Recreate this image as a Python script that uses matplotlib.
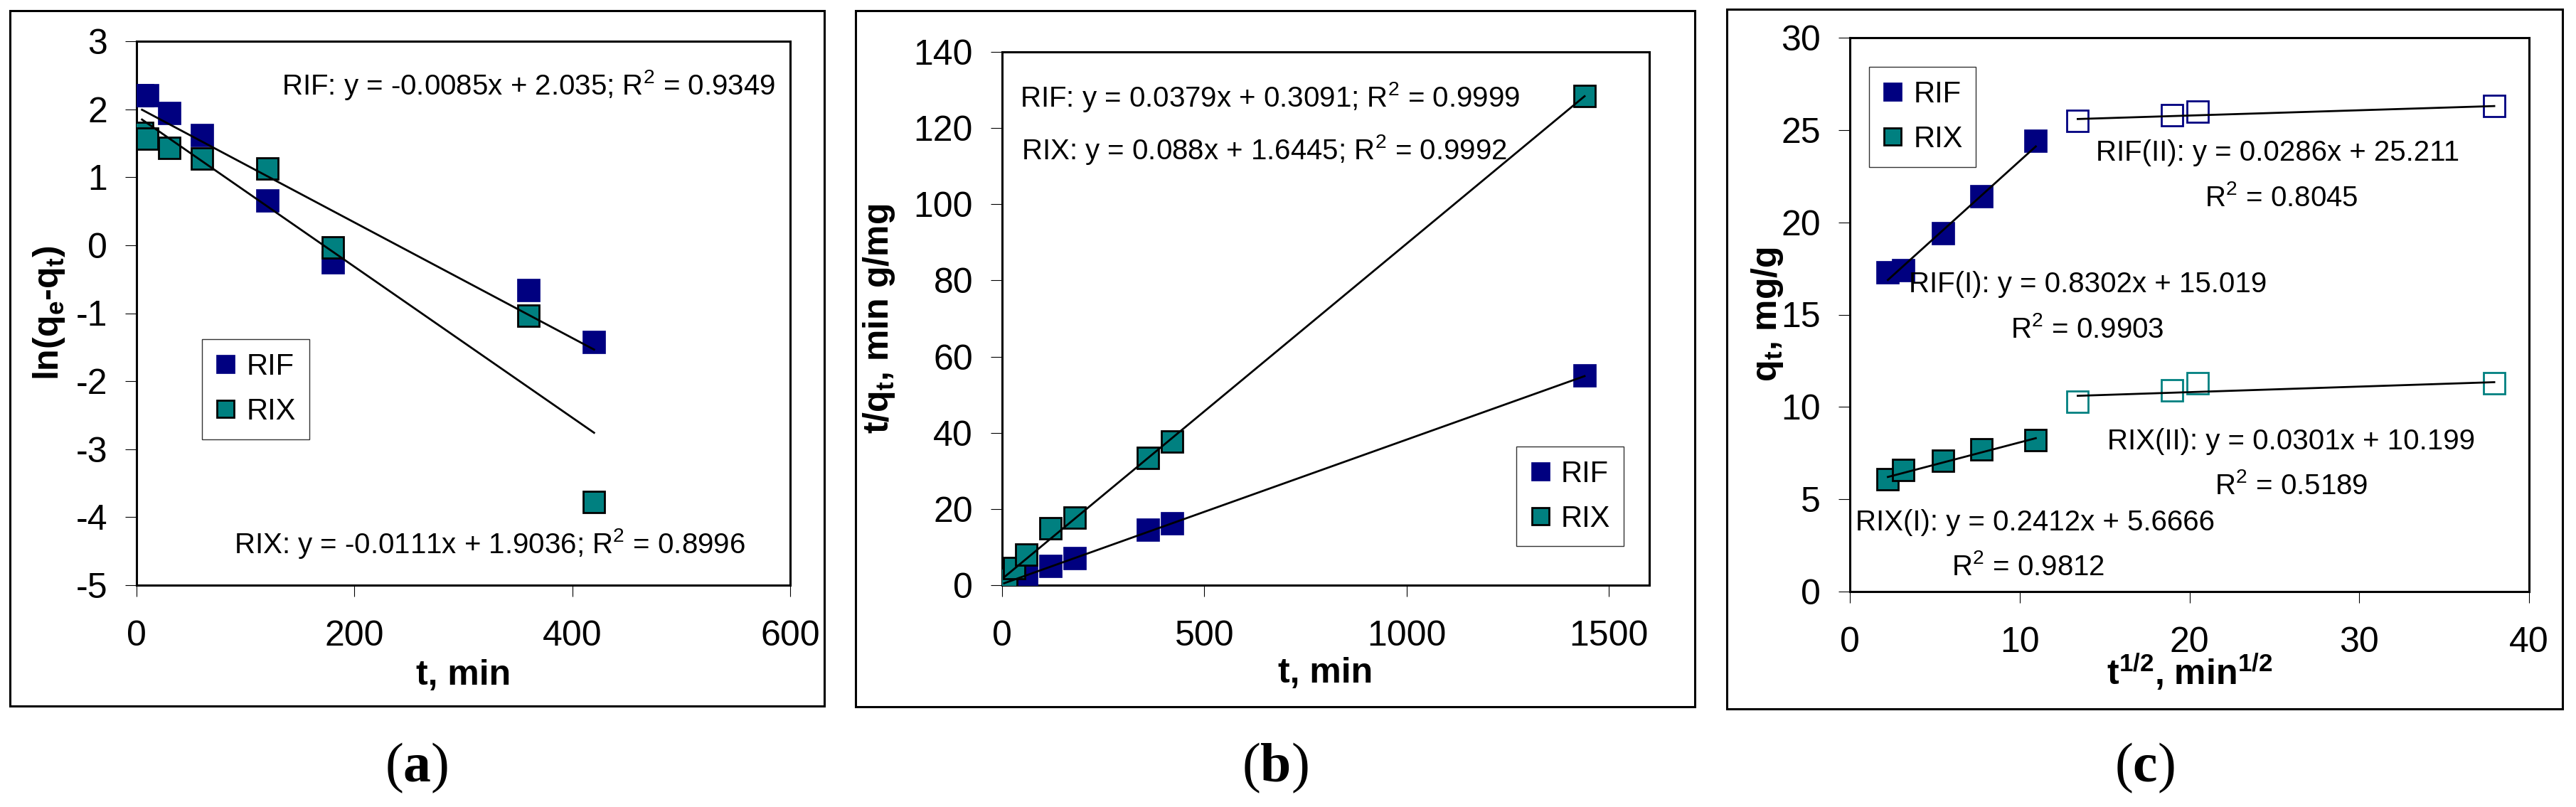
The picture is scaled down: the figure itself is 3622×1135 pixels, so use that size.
import matplotlib
matplotlib.use('Agg')
import matplotlib.pyplot as plt
from matplotlib.patches import Rectangle

plt.rcParams['font.family'] = 'Liberation Sans'
plt.rcParams['mathtext.fontset'] = 'custom'
plt.rcParams['mathtext.bf'] = 'Liberation Serif:bold'
plt.rcParams['mathtext.default'] = 'regular'
plt.rcParams['axes.unicode_minus'] = False

NAVY = '#000080'
TEAL = '#008080'

# contact time, min
t_a = [5, 10, 30, 60, 120, 180, 360, 420]
t_b = [5, 10, 30, 60, 120, 180, 360, 420, 1440]
# square root of time, min^1/2
sqrt_t = [2.24, 3.16, 5.48, 7.75, 10.95, 13.42, 18.97, 20.49, 37.95]

# (a) ln(qe - qt)
rif_a = [2.20, 2.20, 1.94, 1.62, 0.66, -0.25, -0.66, -1.42]
rix_a = [1.65, 1.57, 1.43, 1.27, 1.13, -0.03, -1.04, -3.78]
# (b) t/qt
rif_b = [0.3, 0.6, 1.6, 2.8, 5.0, 7.1, 14.5, 16.2, 55.0]
rix_b = [0.8, 1.6, 4.5, 8.0, 15.0, 17.7, 33.4, 37.8, 128.4]
# (c) qt, mg/g  (first 5 = stage I, last 4 = stage II)
rif_c = [17.3, 17.4, 19.4, 21.4, 24.4, 25.5, 25.8, 26.0, 26.3]
rix_c = [6.1, 6.6, 7.1, 7.7, 8.2, 10.3, 10.9, 11.3, 11.3]

# trendlines (slope, intercept) as printed on the chart
fit_a_rif = (-0.0085, 2.035)
fit_a_rix = (-0.0111, 1.9036)
fit_b_rif = (0.0379, 0.3091)
fit_b_rix = (0.088, 1.6445)
fit_c_rif1 = (0.8302, 15.019)
fit_c_rif2 = (0.0286, 25.211)
fit_c_rix1 = (0.2412, 5.6666)
fit_c_rix2 = (0.0301, 10.199)

W, H = 3622, 1135
fig = plt.figure(figsize=(W / 100, H / 100), dpi=100)

TICK = 36
ANN = 29


def px_axes(x0, y0, x1, y1):
    return fig.add_axes([x0 / W, 1 - y1 / H, (x1 - x0) / W, (y1 - y0) / H])


def frame(x0, y0, x1, y1):
    fig.add_artist(Rectangle((x0 / W, 1 - y1 / H), (x1 - x0) / W, (y1 - y0) / H,
                             transform=fig.transFigure, fill=False, ec='black', lw=2.2))


def style(ax):
    for s in ax.spines.values():
        s.set_linewidth(2.2)
    ax.tick_params(direction='out', length=11.5, width=0.8, labelsize=TICK)
    ax.tick_params(axis='x', pad=24)
    ax.tick_params(axis='y', pad=18)


def trend(ax, x, fit):
    xs = [min(x), max(x)]
    ax.plot(xs, [fit[0] * v + fit[1] for v in xs], color='black', lw=2, zorder=5)


def points(ax, x, y, label=None, hollow=False, color=NAVY):
    if hollow:
        ax.plot(x, y, 's', ms=21, mfc='white', mec=color, mew=2, zorder=3)
    elif color == NAVY:
        ax.plot(x, y, 's', ms=23, mfc=NAVY, mec=NAVY, mew=0.5, label=label, zorder=3)
    else:
        ax.plot(x, y, 's', ms=21, mfc=TEAL, mec='black', mew=2, label=label, zorder=3)


def legend(ax, x, y):
    lg = ax.legend(loc='upper left', bbox_to_anchor=(x, y), borderaxespad=0,
                   fontsize=30, frameon=True, fancybox=False, markerscale=0.82,
                   handlelength=0.7, handletextpad=0.35, labelspacing=0.55,
                   borderpad=0.45)
    lg.get_frame().set_edgecolor('black')
    lg.get_frame().set_linewidth(1.0)


# ---------- (a) ----------
frame(14, 15, 1159, 993)
ax = px_axes(192, 58, 1111, 823)
points(ax, t_a, rif_a, 'RIF')
points(ax, t_a, rix_a, 'RIX', color=TEAL)
trend(ax, t_a, fit_a_rif)
trend(ax, t_a, fit_a_rix)
ax.set_xlim(0, 600)
ax.set_ylim(-5, 3)
ax.set_xticks([0, 200, 400, 600])
ax.set_yticks(range(-5, 4))
style(ax)
ax.set_xlabel('t, min', fontsize=36, fontweight='bold', va='center')
ax.xaxis.set_label_coords(0.5, -0.166)
ax.set_ylabel('ln(q$_e$-q$_t$)', fontsize=36, fontweight='bold', va='center')
ax.yaxis.set_label_coords(-0.134, 0.5)
legend(ax, 0.100, 0.452)
ax.text(0.977, 0.919, 'RIF: y = -0.0085x + 2.035; R$^2$ = 0.9349', transform=ax.transAxes,
        ha='right', va='center', fontsize=ANN)
ax.text(0.54, 0.076, 'RIX: y = -0.0111x + 1.9036; R$^2$ = 0.8996', transform=ax.transAxes,
        ha='center', va='center', fontsize=ANN)
fig.text(586 / W, 1 - 1080 / H, r'($\mathbf{a}$)', family='Liberation Serif', fontsize=56,
         ha='center', va='center')

# ---------- (b) ----------
frame(1203, 15, 2383, 994)
ax = px_axes(1409, 73, 2319, 823)
points(ax, t_b, rif_b, 'RIF')
points(ax, t_b, rix_b, 'RIX', color=TEAL)
trend(ax, t_b, fit_b_rif)
trend(ax, t_b, fit_b_rix)
ax.set_xlim(0, 1600)
ax.set_ylim(0, 140)
ax.set_xticks([0, 500, 1000, 1500])
ax.set_yticks(range(0, 141, 20))
style(ax)
ax.set_xlabel('t, min', fontsize=36, fontweight='bold', va='center')
ax.xaxis.set_label_coords(0.5, -0.165)
ax.set_ylabel('t/q$_t$, min g/mg', fontsize=36, fontweight='bold', va='center')
ax.yaxis.set_label_coords(-0.19, 0.5)
legend(ax, 0.795, 0.26)
ax.text(0.028, 0.916, 'RIF: y = 0.0379x + 0.3091; R$^2$ = 0.9999', transform=ax.transAxes,
        ha='left', va='center', fontsize=ANN)
ax.text(0.030, 0.817, 'RIX: y = 0.088x + 1.6445; R$^2$ = 0.9992', transform=ax.transAxes,
        ha='left', va='center', fontsize=ANN)
fig.text(1793 / W, 1 - 1080 / H, r'($\mathbf{b}$)', family='Liberation Serif', fontsize=56,
         ha='center', va='center')

# ---------- (c) ----------
frame(2428, 13, 3603, 997)
ax = px_axes(2601, 53, 3556, 832)
points(ax, sqrt_t[:5], rif_c[:5], 'RIF')
points(ax, sqrt_t[:5], rix_c[:5], 'RIX', color=TEAL)
points(ax, sqrt_t[5:], rif_c[5:], hollow=True, color=NAVY)
points(ax, sqrt_t[5:], rix_c[5:], hollow=True, color=TEAL)
trend(ax, sqrt_t[:5], fit_c_rif1)
trend(ax, sqrt_t[5:], fit_c_rif2)
trend(ax, sqrt_t[:5], fit_c_rix1)
trend(ax, sqrt_t[5:], fit_c_rix2)
ax.set_xlim(0, 40)
ax.set_ylim(0, 30)
ax.set_xticks(range(0, 41, 10))
ax.set_yticks(range(0, 31, 5))
style(ax)
ax.set_xlabel('t$^{1/2}$, min$^{1/2}$', fontsize=36, fontweight='bold', va='center')
ax.xaxis.set_label_coords(0.5, -0.145)
ax.set_ylabel('q$_t$, mg/g', fontsize=36, fontweight='bold', va='center')
ax.yaxis.set_label_coords(-0.121, 0.5)
legend(ax, 0.028, 0.947)
ax.text(25.2, 23.76, 'RIF(II): y = 0.0286x + 25.211', ha='center', va='center', fontsize=ANN)
ax.text(25.4, 21.33, 'R$^2$ = 0.8045', ha='center', va='center', fontsize=ANN)
ax.text(14.0, 16.63, 'RIF(I): y = 0.8302x + 15.019', ha='center', va='center', fontsize=ANN)
ax.text(14.0, 14.2, 'R$^2$ = 0.9903', ha='center', va='center', fontsize=ANN)
ax.text(26.0, 8.14, 'RIX(II): y = 0.0301x + 10.199', ha='center', va='center', fontsize=ANN)
ax.text(26.0, 5.73, 'R$^2$ = 0.5189', ha='center', va='center', fontsize=ANN)
ax.text(10.9, 3.72, 'RIX(I): y = 0.2412x + 5.6666', ha='center', va='center', fontsize=ANN)
ax.text(10.5, 1.34, 'R$^2$ = 0.9812', ha='center', va='center', fontsize=ANN)
fig.text(3015 / W, 1 - 1080 / H, r'($\mathbf{c}$)', family='Liberation Serif', fontsize=56,
         ha='center', va='center')

fig.savefig('out.png', dpi=100, facecolor='white')
